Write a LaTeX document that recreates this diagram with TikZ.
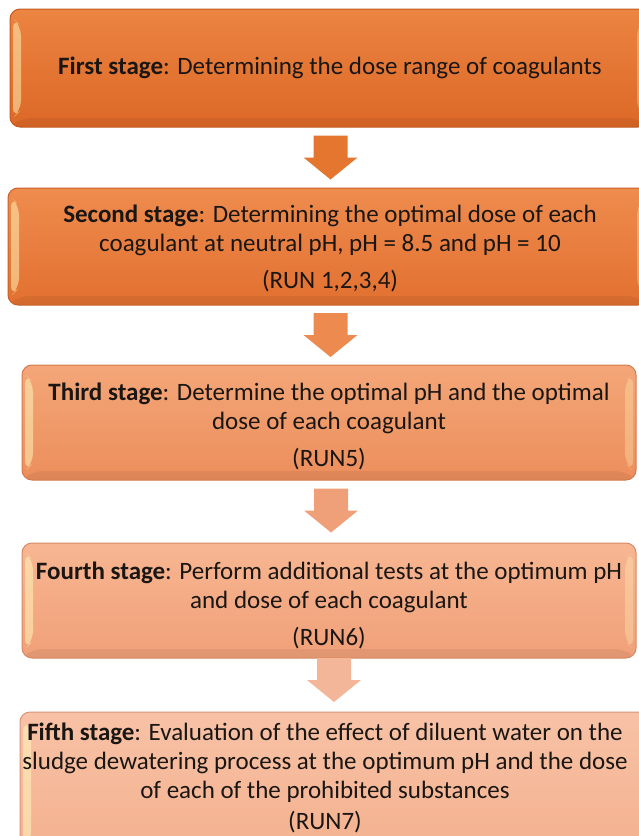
\documentclass[tikz,border=0pt]{standalone}
\usepackage{fontspec}
\setmainfont{Carlito}
\usetikzlibrary{calc}
\definecolor{txt}{RGB}{26,22,20}
\definecolor{c1t}{RGB}{236,132,66}\definecolor{c1b}{RGB}{220,104,38}\definecolor{c1d}{RGB}{196,92,34}
\definecolor{c2t}{RGB}{238,140,78}\definecolor{c2b}{RGB}{226,112,48}\definecolor{c2d}{RGB}{200,98,40}
\definecolor{c3t}{RGB}{244,166,120}\definecolor{c3b}{RGB}{236,142,92}\definecolor{c3d}{RGB}{212,122,78}
\definecolor{c4t}{RGB}{247,182,146}\definecolor{c4b}{RGB}{240,160,120}\definecolor{c4d}{RGB}{214,138,100}
\definecolor{c5t}{RGB}{248,194,166}\definecolor{c5b}{RGB}{243,176,142}\definecolor{c5d}{RGB}{216,150,120}
\definecolor{a1c}{RGB}{228,118,48}
\definecolor{a2c}{RGB}{236,138,80}
\definecolor{a3c}{RGB}{240,160,120}
\definecolor{a4c}{RGB}{244,182,152}
\tikzset{
  stagebox/.style={rectangle, rounded corners=10pt, line width=1pt, inner sep=0pt,
    path picture={
      \fill[white!75!yellow, opacity=.5]
        ([xshift=3pt,yshift=-9pt]path picture bounding box.north west) --
        ([xshift=11pt,yshift=-17pt]path picture bounding box.north west) --
        ([xshift=11pt,yshift=17pt]path picture bounding box.south west) --
        ([xshift=3pt,yshift=9pt]path picture bounding box.south west) -- cycle;
      \fill[white!75!yellow, opacity=.3]
        ([xshift=-3pt,yshift=-9pt]path picture bounding box.north east) --
        ([xshift=-11pt,yshift=-17pt]path picture bounding box.north east) --
        ([xshift=-11pt,yshift=17pt]path picture bounding box.south east) --
        ([xshift=-3pt,yshift=9pt]path picture bounding box.south east) -- cycle;
      \fill[black, opacity=.06]
        ([xshift=11pt,yshift=9pt]path picture bounding box.south west) --
        ([xshift=-11pt,yshift=9pt]path picture bounding box.south east) --
        (path picture bounding box.south east) --
        (path picture bounding box.south west) -- cycle;
    }},
  stagetext/.style={align=center, text=txt, inner sep=0pt,
    font=\fontsize{25}{29}\selectfont}
}
% block arrow between two named boxes: #1 upper box, #2 lower box, #3 colour, #4 downward shift
\newcommand\blockarrow[4]{%
  \fill[#3] let \p1=($(#1.south)!0.5!(#2.north)+(0,#4)$) in
    (\x1-15pt,\y1+22pt) -- (\x1+19pt,\y1+22pt) -- (\x1+19pt,\y1) --
    (\x1+29pt,\y1) -- (\x1+2pt,\y1-22pt) -- (\x1-25pt,\y1) --
    (\x1-15pt,\y1) -- cycle;}
\begin{document}
\begin{tikzpicture}[x=1pt,y=-1pt]
\useasboundingbox (0,0) rectangle (638,836);
\fill[white] (0,0) rectangle (638,836);
% boxes
\node[stagebox, top color=c1t, bottom color=c1b, draw=c1d,
      minimum width=638pt, minimum height=118pt] (b1) at (329,68) {};
\node[stagebox, top color=c2t, bottom color=c2b, draw=c2d,
      minimum width=640pt, minimum height=117pt] (b2) at (328,246.5) {};
\node[stagebox, top color=c3t, bottom color=c3b, draw=c3d,
      minimum width=614pt, minimum height=115pt] (b3) at (329,422.5) {};
\node[stagebox, top color=c4t, bottom color=c4b, draw=c4d,
      minimum width=614pt, minimum height=115pt] (b4) at (329,600.5) {};
\node[stagebox, top color=c5t, bottom color=c5b, draw=c5d,
      minimum width=630pt, minimum height=148pt] (b5) at (335,786) {};
% texts
\node[stagetext] (l1) at (330,68)
  {\textbf{First stage}: Determining the dose range of coagulants};
\node[stagetext] (l2) at (330,248)
  {\textbf{Second stage}: Determining the optimal dose of each\\
   coagulant at neutral pH, pH = 8.5 and pH = 10\\[8pt]
   (RUN 1,2,3,4)};
\node[stagetext] (l3) at (329,426)
  {\textbf{Third stage}: Determine the optimal pH and the optimal\\
   dose of each coagulant\\[8pt]
   (RUN5)};
\node[stagetext] (l4) at (329,605)
  {\textbf{Fourth stage}: Perform additional tests at the optimum pH\\
   and dose of each coagulant\\[8pt]
   (RUN6)};
\node[stagetext] (l5) at (325,778)
  {\textbf{Fifth stage}: Evaluation of the effect of diluent water on the\\
   sludge dewatering process at the optimum pH and the dose\\
   of each of the prohibited substances\\[2pt]
   (RUN7)};
% arrows
\blockarrow{b1}{b2}{a1c}{0pt}
\blockarrow{b2}{b3}{a2c}{0pt}
\blockarrow{b3}{b4}{a3c}{1pt}
\blockarrow{b4}{b5}{a4c}{5pt}
\end{tikzpicture}
\end{document}
